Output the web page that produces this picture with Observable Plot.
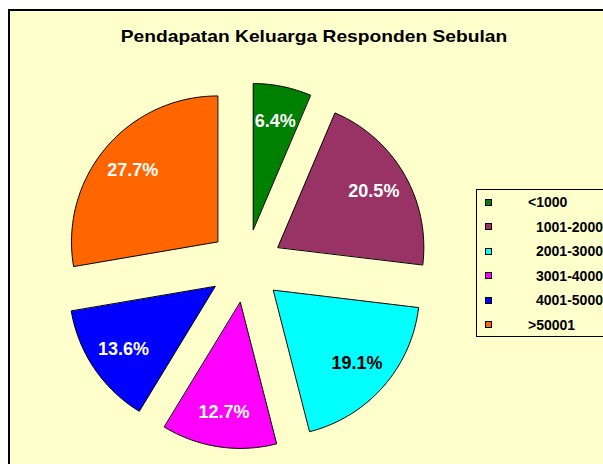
<!DOCTYPE html>
<html><head><meta charset="utf-8">
<script src="https://cdn.jsdelivr.net/npm/d3@7"></script>
<script src="https://cdn.jsdelivr.net/npm/@observablehq/plot@0.6"></script>
<style>
html,body{margin:0;padding:0;width:603px;height:464px;overflow:hidden;background:#fff;font-family:"Liberation Sans",Arial,sans-serif;}
#frame{position:absolute;left:8px;top:9px;width:700px;height:600px;border-left:2px solid #000;border-top:2px solid #000;background:#FFFFCC;}
#chart{position:absolute;left:0;top:0;}
#title{position:absolute;left:14px;top:28px;width:600px;text-align:center;font-weight:bold;font-size:17px;line-height:17px;color:#000;white-space:nowrap;transform:scaleX(1.13);transform-origin:300px 50%;}
#legend{position:absolute;left:476px;top:189px;width:200px;height:148px;box-sizing:border-box;border:1.5px solid #000;background:#FFFFCC;}
.row{position:absolute;left:0;height:24.5px;width:100%;}
.mk{position:absolute;left:8px;top:8.75px;width:7px;height:7px;box-sizing:border-box;border:1px solid #000;}
.lb{position:absolute;top:0;line-height:24.5px;font-weight:bold;font-size:14px;color:#000;white-space:nowrap;}
</style>
</head><body>
<div id="frame"></div>
<div id="chart"></div>
<div id="title">Pendapatan Keluarga Responden Sebulan</div>
<div id="legend"></div>
<script>
const categories = ["<1000", "1001-2000", "2001-3000", "3001-4000", "4001-5000", ">50001"];
const percents = [6.4, 20.5, 19.1, 12.7, 13.6, 27.7];
const colors = ["#008000", "#993366", "#00FFFF", "#FF00FF", "#0000FF", "#FF6600"];

// layout constants
const W = 603, H = 464;
const cx = 245.3, cy = 265.3, R = 146, explode = 37, labelFrac = 0.76;

const rows = categories.map((c, i) => ({cat: c, value: percents[i], color: colors[i]}));
const arcs = d3.pie().sort(null).value(d => d.value)(rows);

const pts = [];
const labels = [];
arcs.forEach(a => {
  const mid = (a.startAngle + a.endAngle) / 2;
  const ox = cx + explode * Math.sin(mid), oy = cy - explode * Math.cos(mid);
  pts.push({cat: a.data.cat, x: ox, y: oy});
  const n = Math.max(8, Math.ceil((a.endAngle - a.startAngle) * 180 / Math.PI));
  for (let k = 0; k <= n; k++) {
    const t = a.startAngle + (a.endAngle - a.startAngle) * k / n;
    pts.push({cat: a.data.cat, x: ox + R * Math.sin(t), y: oy - R * Math.cos(t)});
  }
  labels.push({
    cat: a.data.cat,
    x: ox + labelFrac * R * Math.sin(mid),
    y: oy - labelFrac * R * Math.cos(mid),
    text: a.data.value.toFixed(1) + "%",
    dark: d3.lab(a.data.color).l > 75
  });
});

const txt = {x: "x", y: "y", text: "text", fontSize: 18, fontWeight: "bold", textAnchor: "middle", lineAnchor: "middle"};
const plot = Plot.plot({
  width: W, height: H, margin: 0,
  x: {domain: [0, W], range: [0, W], axis: null},
  y: {domain: [0, H], range: [0, H], axis: null},
  color: {domain: categories, range: colors},
  style: {background: "transparent", fontFamily: "Liberation Sans, Arial, sans-serif", overflow: "visible"},
  marks: [
    Plot.line(pts, {x: "x", y: "y", z: "cat", fill: "cat", stroke: "#000", strokeWidth: 1, curve: "linear-closed"}),
    Plot.text(labels.filter(d => !d.dark), {...txt, fill: "white"}),
    Plot.text(labels.filter(d => d.dark), {...txt, fill: "black"})
  ]
});
document.getElementById("chart").appendChild(plot);

const legend = document.getElementById("legend");
categories.forEach((c, i) => {
  const row = document.createElement("div");
  row.className = "row";
  row.style.top = (24.5 * i) + "px";
  const mk = document.createElement("div");
  mk.className = "mk";
  mk.style.background = colors[i];
  const lb = document.createElement("div");
  lb.className = "lb";
  lb.style.left = (/^\d/.test(c) ? 59 : 51) + "px";
  lb.textContent = c;
  row.appendChild(mk);
  row.appendChild(lb);
  legend.appendChild(row);
});
</script>
</body></html>
